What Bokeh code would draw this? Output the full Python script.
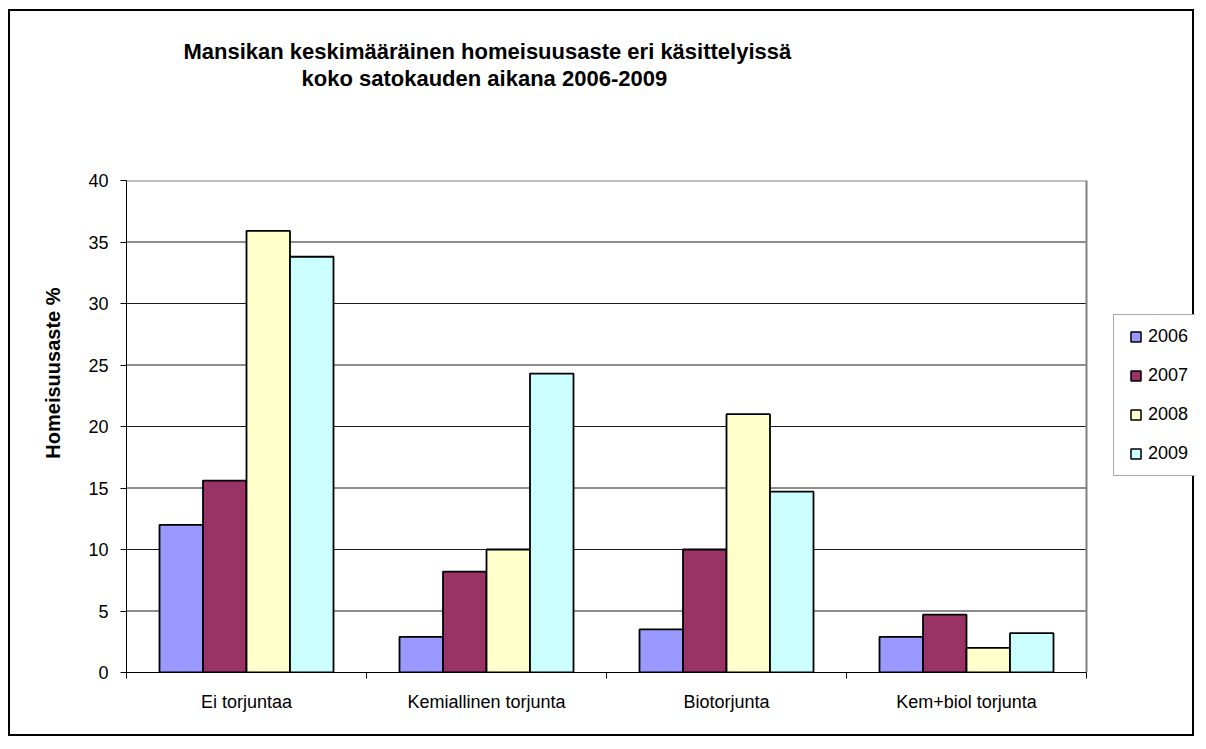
from bokeh.plotting import figure
from bokeh.models import (ColumnDataSource, Range1d, FixedTicker, Title, Legend,
                          LegendItem)
from bokeh.transform import dodge
from bokeh.embed import file_html
from bokeh.resources import INLINE
import numpy as np

categories = ["Ei torjuntaa", "Kemiallinen torjunta", "Biotorjunta", "Kem+biol torjunta"]
years = ["2006", "2007", "2008", "2009"]
y2006 = [12.0, 2.9, 3.5, 2.9]
y2007 = [15.6, 8.2, 10.0, 4.7]
y2008 = [35.9, 10.0, 21.0, 2.0]
y2009 = [33.8, 24.3, 14.7, 3.2]
colors = ["#9999FF", "#993366", "#FFFFCC", "#CCFFFF"]
y_ticks = [0, 5, 10, 15, 20, 25, 30, 35, 40]

FONT = "Liberation Sans"
n = len(categories)
y_max = y_ticks[-1]

# layout: the frame reaches (almost) the right edge so the legend can sit inside it;
# the category area covers PLOT_W of the FRAME_W pixels
FRAME_W = 1069
PLOT_W = 960

centers = (np.arange(n) + 0.5).tolist()
source = ColumnDataSource(dict(x=centers, y2006=y2006, y2007=y2007,
                               y2008=y2008, y2009=y2009))

p = figure(width=1186, height=727, output_backend="svg", toolbar_location=None,
           x_range=Range1d(0, n * FRAME_W / PLOT_W), y_range=Range1d(0, y_max),
           min_border_left=116, min_border_right=1, min_border_top=169,
           min_border_bottom=66, title=None)
p.margin = (9, 0, 0, 8)
p.styles = {"border": "2px solid #000000"}
p.outline_line_color = None
p.xgrid.visible = False
p.ygrid.visible = False

# horizontal gridlines, only across the category area
grid_y = y_ticks[1:-1]
p.segment(x0=[0] * len(grid_y), x1=[n] * len(grid_y), y0=grid_y, y1=grid_y,
          line_color="#1a1a1a", line_width=1)
# plot-area border (top and right), grey
p.line(x=[0, n, n], y=[y_max, y_max, 0], line_color="#808080", line_width=2)

bw = 0.18125
offsets = [-1.5 * bw, -0.5 * bw, 0.5 * bw, 1.5 * bw]
series = ["y2006", "y2007", "y2008", "y2009"]
for s, off, c in zip(series, offsets, colors):
    p.vbar(x=dodge("x", off), top=s, width=bw, source=source,
           fill_color=c, line_color="#000000", line_width=1.8)

# axes
xa = p.xaxis[0]
xa.bounds = (0, n)
xa.ticker = FixedTicker(ticks=centers, minor_ticks=list(range(n + 1)))
xa.major_label_overrides = {c: lab for c, lab in zip(centers, categories)}
xa.major_tick_line_color = None
xa.major_tick_out = 6
xa.major_tick_in = 0
xa.minor_tick_out = 6
xa.minor_tick_in = 0
xa.minor_tick_line_color = "#000000"
xa.axis_line_color = "#000000"
xa.major_label_text_font = FONT
xa.major_label_text_font_size = "18px"
xa.major_label_text_color = "#000000"
xa.major_label_standoff = 13

ya = p.yaxis[0]
ya.ticker = FixedTicker(ticks=y_ticks)
ya.major_tick_out = 6
ya.major_tick_in = 0
ya.minor_tick_line_color = None
ya.axis_line_color = "#000000"
ya.major_tick_line_color = "#000000"
ya.major_label_text_font = FONT
ya.major_label_text_font_size = "18px"
ya.major_label_text_color = "#000000"
ya.major_label_standoff = 12

# y axis title
p.add_layout(Title(text="Homeisuusaste %", align="right", offset=107,
                   text_font=FONT, text_font_size="20px", text_font_style="bold",
                   text_color="#000000", standoff=44), "left")

# chart title (two lines), with a spacer between it and the plot area
p.add_layout(Title(text=" ", text_font=FONT, text_font_size="22px",
                   standoff=63), "above")
p.add_layout(Title(text="koko satokauden aikana 2006-2009", align="left", offset=175,
                   text_font=FONT, text_font_size="22px", text_font_style="bold",
                   text_color="#000000", standoff=0), "above")
p.add_layout(Title(text="Mansikan keskimääräinen homeisuusaste eri käsittelyissä",
                   align="left", offset=57,
                   text_font=FONT, text_font_size="22px", text_font_style="bold",
                   text_color="#000000", standoff=0), "above")

# legend: square swatches taken from hidden marker renderers
items = []
for yr, s, c in zip(years, series, colors):
    r = p.scatter(x="x", y=s, source=source, visible=False,
                  marker="square", fill_color=c, line_color="#000000", line_width=1.5)
    items.append(LegendItem(label=yr, renderers=[r]))
legend = Legend(items=items, location=(987, 196), padding=9, spacing=14,
                glyph_width=25, glyph_height=25, label_height=25, label_width=43,
                label_standoff=0, label_text_font=FONT, label_text_font_size="18px",
                label_text_color="#000000", border_line_color="#555555",
                border_line_width=1, background_fill_color="#FFFFFF",
                background_fill_alpha=1.0, inactive_fill_alpha=0.0, margin=0)
p.add_layout(legend, "center")

open("out.html", "w").write(file_html(p, INLINE))
